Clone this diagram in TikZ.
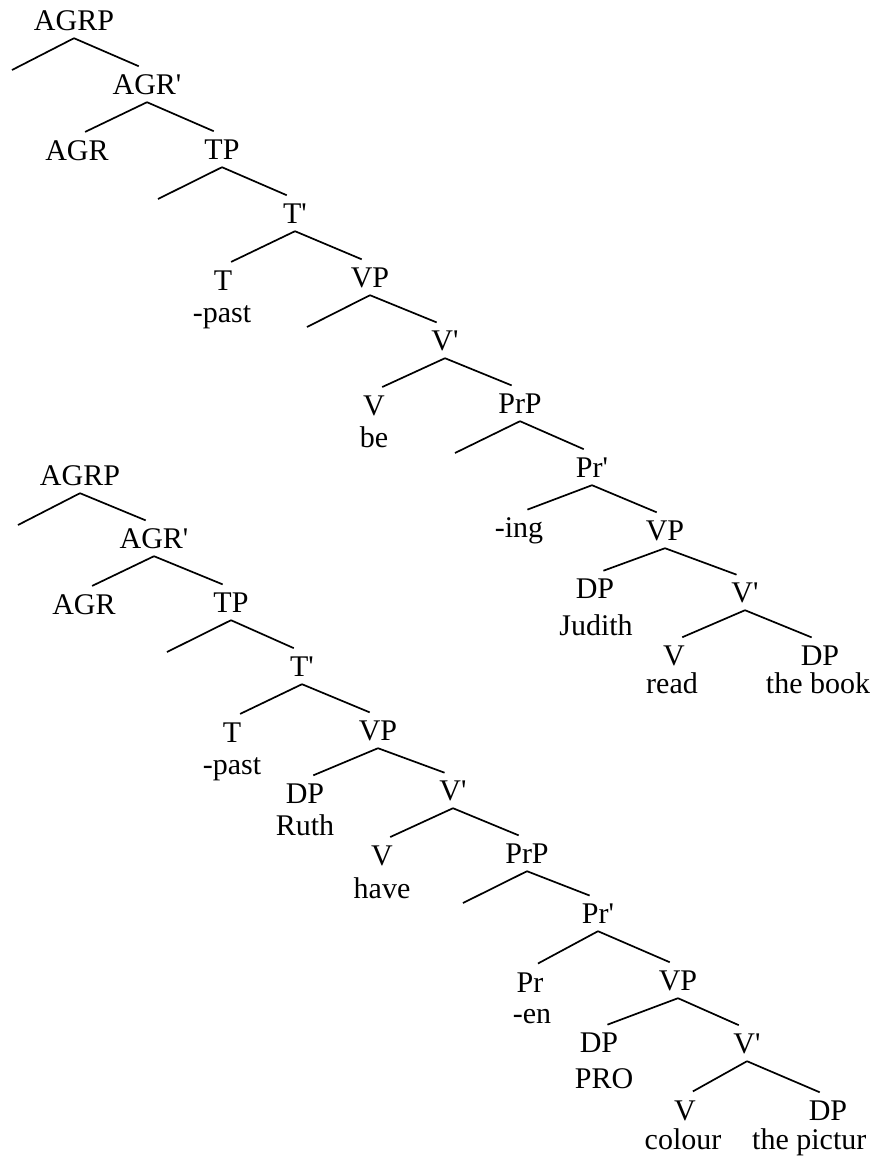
\documentclass[tikz,border=0pt]{standalone}
\usepackage{fontspec}
\newfontfamily\tr{Liberation Serif}
\begin{document}
\begin{tikzpicture}[x=1pt,y=-1pt,
  cat/.style={anchor=base,inner xsep=0pt,inner ysep=4pt,text height=20pt,text depth=4pt,font=\tr\fontsize{30}{36}\selectfont},
  leaf/.style={cat,text depth=0pt},
  word/.style={anchor=base,inner sep=0pt,font=\tr\fontsize{30}{36}\selectfont},
  br/.style={line width=1.7pt,shorten >=9pt},
  brx/.style={line width=1.7pt}]
\fill[white] (0,0) rectangle (879,1160);
\useasboundingbox (0,0) rectangle (879,1160);
% ---------- tree 1 ----------
\node[cat] (A1) at (74,30) {AGRP};
\node[cat] (A1b) at (147,94) {AGR'};
\node[cat] (A1h) at (77,160) {AGR};
\node[cat] (T1) at (222,159) {TP};
\node[cat] (T1b) at (295,223) {T'};
\node[cat] (T1h) at (223,290) {T};
\node[word] (T1w) at (222,322) {-past};
\node[cat] (V1) at (370,287) {VP};
\node[cat] (V1b) at (445,350) {V'};
\node[cat] (V1h) at (374,415) {V};
\node[word] (V1w) at (374,447) {be};
\node[cat] (P1) at (520,413) {PrP};
\node[cat] (P1b) at (592,477) {Pr'};
\node[cat] (P1h) at (519,537) {-ing};
\node[cat] (W1) at (665,540) {VP};
\node[cat] (D1) at (595,598) {DP};
\node[word] (D1w) at (596,635) {Judith};
\node[cat] (W1b) at (745,602) {V'};
\node[leaf] (W1h) at (674,665) {V};
\node[word] (W1w) at (672,693) {read};
\node[leaf] (E1) at (820,665) {DP};
\node[word] (E1w) at (818,693) {the book};
\coordinate (e1) at (12,70);
\coordinate (e2) at (158,199);
\coordinate (e3) at (307,327);
\coordinate (e4) at (455,453);
\draw[brx] (A1.south) -- (e1);
\draw[br] (A1.south) -- (A1b.north);
\draw[br] (A1b.south) -- (A1h.north);
\draw[br] (A1b.south) -- (T1.north);
\draw[brx] (T1.south) -- (e2);
\draw[br] (T1.south) -- (T1b.north);
\draw[br] (T1b.south) -- (T1h.north);
\draw[br] (T1b.south) -- (V1.north);
\draw[brx] (V1.south) -- (e3);
\draw[br] (V1.south) -- (V1b.north);
\draw[br] (V1b.south) -- (V1h.north);
\draw[br] (V1b.south) -- (P1.north);
\draw[brx] (P1.south) -- (e4);
\draw[br] (P1.south) -- (P1b.north);
\draw[br] (P1b.south) -- (P1h.north);
\draw[br] (P1b.south) -- (W1.north);
\draw[br] (W1.south) -- (D1.north);
\draw[br] (W1.south) -- (W1b.north);
\draw[br] (W1b.south) -- (W1h.north);
\draw[br] (W1b.south) -- (E1.north);
% ---------- tree 2 ----------
\node[cat] (A2) at (80,485) {AGRP};
\node[cat] (A2b) at (154,548) {AGR'};
\node[cat] (A2h) at (84,614) {AGR};
\node[cat] (T2) at (231,612) {TP};
\node[cat] (T2b) at (302,676) {T'};
\node[cat] (T2h) at (232,742) {T};
\node[word] (T2w) at (232,774) {-past};
\node[cat] (V2) at (378,740) {VP};
\node[cat] (D2) at (305,803) {DP};
\node[word] (D2w) at (305,835) {Ruth};
\node[cat] (V2b) at (453,800) {V'};
\node[cat] (V2h) at (382,865) {V};
\node[word] (V2w) at (382,898) {have};
\node[cat] (P2) at (527,863) {PrP};
\node[cat] (P2b) at (598,923) {Pr'};
\node[cat] (P2h) at (530,992) {Pr};
\node[word] (P2w) at (532,1023) {-en};
\node[cat] (W2) at (678,990) {VP};
\node[cat] (D3) at (599,1052) {DP};
\node[word] (D3w) at (604,1088) {PRO};
\node[cat] (W2b) at (747,1053) {V'};
\node[leaf] (W2h) at (685,1120) {V};
\node[word] (W2w) at (683,1149) {colour};
\node[leaf] (E2) at (828,1120) {DP};
\node[word,anchor=base west] (E2w) at (752,1149) {the pictur};
\coordinate (f1) at (18,525);
\coordinate (f2) at (167,652);
\coordinate (f3) at (463,903);
\draw[brx] (A2.south) -- (f1);
\draw[br] (A2.south) -- (A2b.north);
\draw[br] (A2b.south) -- (A2h.north);
\draw[br] (A2b.south) -- (T2.north);
\draw[brx] (T2.south) -- (f2);
\draw[br] (T2.south) -- (T2b.north);
\draw[br] (T2b.south) -- (T2h.north);
\draw[br] (T2b.south) -- (V2.north);
\draw[br] (V2.south) -- (D2.north);
\draw[br] (V2.south) -- (V2b.north);
\draw[br] (V2b.south) -- (V2h.north);
\draw[br] (V2b.south) -- (P2.north);
\draw[brx] (P2.south) -- (f3);
\draw[br] (P2.south) -- (P2b.north);
\draw[br] (P2b.south) -- (P2h.north);
\draw[br] (P2b.south) -- (W2.north);
\draw[br] (W2.south) -- (D3.north);
\draw[br] (W2.south) -- (W2b.north);
\draw[br] (W2b.south) -- (W2h.north);
\draw[br] (W2b.south) -- (E2.north);
\end{tikzpicture}
\end{document}
